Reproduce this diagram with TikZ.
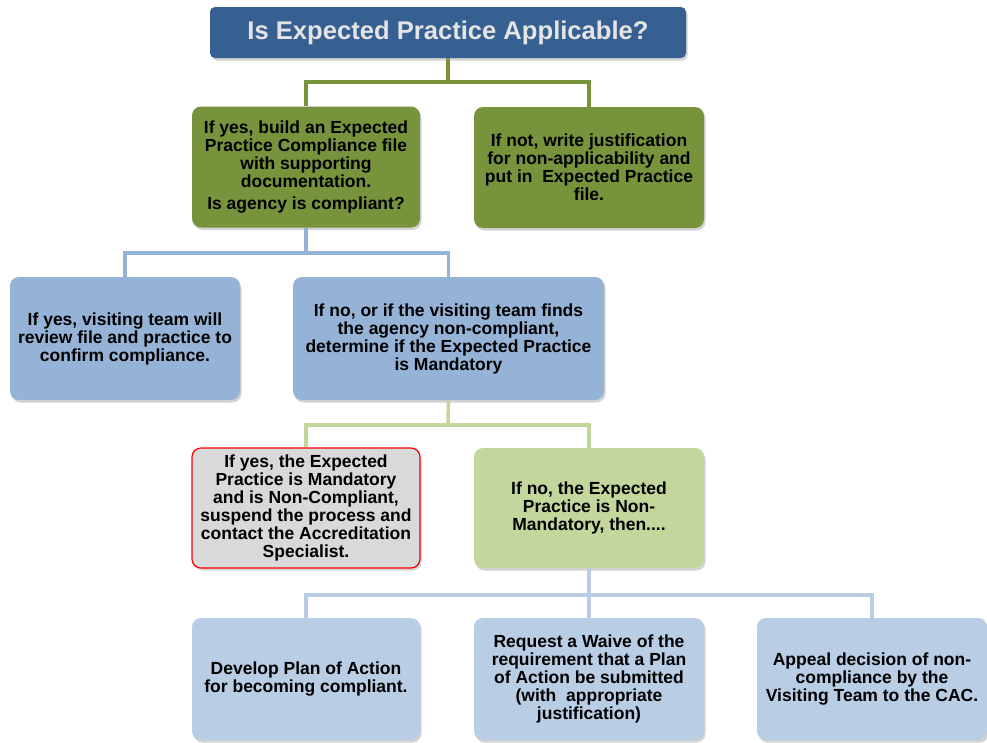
\documentclass[tikz,border=0pt]{standalone}
\usepackage{fontspec}
\setmainfont{Liberation Sans}
\usetikzlibrary{shadows}
\definecolor{titleblue}{HTML}{376092}
\definecolor{darkgreen}{HTML}{77933C}
\definecolor{midblue}{HTML}{95B3D7}
\definecolor{lightgreen}{HTML}{C3D69B}
\definecolor{lightblue}{HTML}{B9CDE5}
\definecolor{boxgray}{HTML}{D9D9D9}
\definecolor{titletext}{HTML}{E4E4E4}
\begin{document}
\begin{tikzpicture}[x=1pt,y=-1pt,
  box/.style={rounded corners=9pt, align=center, inner sep=2pt,
    font=\bfseries\fontsize{17.5}{18}\selectfont, text=black,
    drop shadow={opacity=0.35, shadow xshift=1.5pt, shadow yshift=-2.5pt}},
  conn/.style={line width=3.5pt}
]
\useasboundingbox (0,0) rectangle (987,742);

\node[box, fill=titleblue, text=titletext, rounded corners=5pt,
  minimum width=476pt, minimum height=51pt,
  font=\bfseries\fontsize{25.6}{30}\selectfont] (top) at (448,32.5) {Is Expected Practice Applicable?};

\node[box, fill=darkgreen, minimum width=228pt, minimum height=121pt] (g1) at (306,167)
  {If yes, build an Expected\\Practice Compliance file\\with supporting\\documentation.\\[4pt]Is agency is compliant?};
\node[box, fill=darkgreen, minimum width=230pt, minimum height=121pt] (g2) at (589,167.5)
  {If not, write justification\\for non-applicability and\\put in\ \ Expected Practice\\file.};

\node[box, fill=midblue, minimum width=230pt, minimum height=123pt] (b1) at (125,338.5)
  {If yes, visiting team will\\review file and practice to\\confirm compliance.};
\node[box, fill=midblue, minimum width=311pt, minimum height=123pt] (b2) at (448.5,338.5)
  {If no, or if the visiting team finds\\the agency non-compliant,\\determine if the Expected Practice\\is Mandatory};

\node[box, fill=boxgray, draw=red, line width=1.2pt, minimum width=228pt, minimum height=120pt] (r1) at (306,508)
  {If yes, the Expected\\Practice is Mandatory\\and is Non-Compliant,\\suspend the process and\\contact the Accreditation\\Specialist.};
\node[box, fill=lightgreen, minimum width=230pt, minimum height=120pt] (lg) at (589,508)
  {If no, the Expected\\Practice is Non-\\Mandatory, then....};

\node[box, fill=lightblue, minimum width=228pt, minimum height=122pt] (d1) at (306,679)
  {Develop Plan of Action\\for becoming compliant.};
\node[box, fill=lightblue, minimum width=230pt, minimum height=122pt] (d2) at (589,679)
  {Request a Waive of the\\requirement that a Plan\\of Action be submitted\\(with\ \ appropriate\\justification)};
\node[box, fill=lightblue, minimum width=230pt, minimum height=122pt] (d3) at (872,679)
  {Appeal decision of non-\\compliance by the\\Visiting Team to the CAC.};

\coordinate (j1) at (448,82);
\coordinate (j2) at (306,253);
\coordinate (j3) at (448,425);
\coordinate (j4) at (589,595);

\draw[conn, darkgreen] (top.south) -- (j1);
\draw[conn, darkgreen] (j1) -| (g1.north);
\draw[conn, darkgreen] (j1) -| (g2.north);

\draw[conn, midblue] (g1.south) -- (j2);
\draw[conn, midblue] (j2) -| (b1.north);
\draw[conn, midblue] (j2) -| (b2.north);

\draw[conn, lightgreen] (b2.south) -- (j3);
\draw[conn, lightgreen] (j3) -| (r1.north);
\draw[conn, lightgreen] (j3) -| (lg.north);

\draw[conn, lightblue] (lg.south) -- (j4);
\draw[conn, lightblue] (j4) -| (d1.north);
\draw[conn, lightblue] (j4) -- (d2.north);
\draw[conn, lightblue] (j4) -| (d3.north);
\end{tikzpicture}
\end{document}
